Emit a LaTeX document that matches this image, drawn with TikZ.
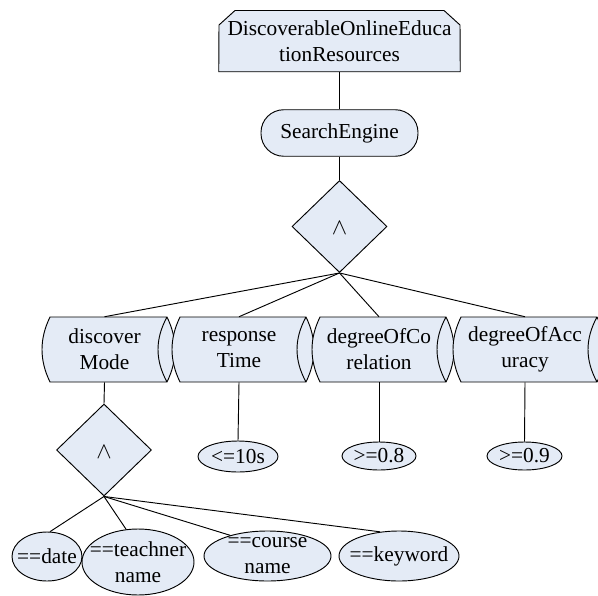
\documentclass[tikz,border=0pt]{standalone}
\usepackage{fontspec}
\setmainfont{Liberation Serif}
\usetikzlibrary{shapes.geometric}
\definecolor{boxfill}{HTML}{E4EBF6}
\def\p{0.75pt}
\tikzset{
  ln/.style={line width=0.7pt,draw=black},
  lbl/.style={inner sep=0pt,align=center,font=\fontsize{16pt}{19.5pt}\selectfont},
  caret/.style={inner sep=0pt,font=\fontsize{18.5pt}{20pt}\selectfont,yshift=-1.2pt},
  ell/.style={ellipse,ln,fill=boxfill,inner sep=0pt},
  dmd/.style={diamond,ln,fill=boxfill,inner sep=0pt,minimum width=95*\p,minimum height=92*\p},
  drumbox/.style={rectangle,inner sep=0pt,minimum height=65*\p},
  drumline/.style={ln,fill=boxfill,line join=round},
}
% name, centre x, left x, right x (px), text
\newcommand{\drumnode}[5]{%
  \node[drumbox,minimum width={(#4-#3)*\p}] (#1) at ({(#3+#4)/2},349.5) {};
  \draw[drumline] (#3+8,317) -- (#4,317)
     .. controls (#4+10.67,339) and (#4+10.67,360) .. (#4,382)
     .. controls (#4-12,360) and (#4-12,339) .. (#4,317)
     .. controls (#4-12,339) and (#4-12,360) .. (#4,382)
     -- (#3+8,382)
     .. controls (#3-2.67,360) and (#3-2.67,339) .. (#3+8,317) -- cycle;
  \node[lbl] (#1t) at (#1) {#5};
}
% name, centre x, centre y, width, height, text
\newcommand{\ellnode}[6]{%
  \node[ell,minimum width=#4*\p,minimum height=#5*\p] (#1) at (#2,#3) {};
  \node[lbl] (#1t) at (#1) {#6};
}
\begin{document}
\begin{tikzpicture}[x=0.75pt,y=-0.75pt]
\useasboundingbox (0,0) rectangle (598,595);
\node[rectangle,inner sep=0pt,minimum width=241*\p,minimum height=61*\p] (res) at (339.5,41) {};
\draw[ln,fill=boxfill,line join=round] (res.south west) -- (219,25) -- (235,10.5) -- (444,10.5) -- (460,25) -- (res.south east) -- cycle;
\node[lbl] (rest) at (res) {DiscoverableOnlineEduca\\tionResources};
\node[rectangle,rounded corners=17pt,ln,fill=boxfill,inner sep=0pt,
      minimum width=157*\p,minimum height=46.5*\p,lbl] (se) at (339.5,133) {SearchEngine};
\node[dmd] (and1) at (339.5,226.5) {};
\node[caret] (and1t) at (and1) {$\wedge$};
\drumnode{dm}{104.5}{42}{167}{discover\\Mode}
\drumnode{rt}{239}{172}{306}{response\\Time}
\drumnode{dc}{379}{312}{446}{degreeOfCo\\relation}
\drumnode{da}{525}{453}{597}{degreeOfAcc\\uracy}
\node[dmd] (and2) at (104,450) {};
\node[caret] (and2t) at (and2) {$\wedge$};
\ellnode{e10}{238}{456.5}{80}{31}{<=10s}
\ellnode{e08}{379}{456}{74}{28}{>=0.8}
\ellnode{e09}{524.5}{456}{75}{28}{>=0.9}
\ellnode{edate}{47}{556.5}{70}{49}{==date}
\ellnode{eteach}{138}{562}{112}{66}{==teachner\\name}
\ellnode{ecourse}{267.5}{556}{127}{50}{==course\\name}
\ellnode{ekey}{399}{556}{120}{50}{==keyword}
\draw[ln] (res.south) -- (se.north);
\draw[ln] (se.south) -- (and1.north);
\draw[ln] (and1.south) -- (dm.north);
\draw[ln] (and1.south) -- (rt.north);
\draw[ln] (and1.south) -- (dc.north);
\draw[ln] (and1.south) -- (da.north);
\draw[ln] (dm.south) -- (and2.north);
\draw[ln] (rt.south) -- (e10.north);
\draw[ln] (dc.south) -- (e08.north);
\draw[ln] (da.south) -- (e09.north);
\draw[ln] (and2.south) -- (edate.83);
\draw[ln] (and2.south) -- (eteach.110);
\draw[ln] (and2.south) -- (ecourse.151);
\draw[ln] (and2.south) -- (ekey.128);
\end{tikzpicture}
\end{document}
